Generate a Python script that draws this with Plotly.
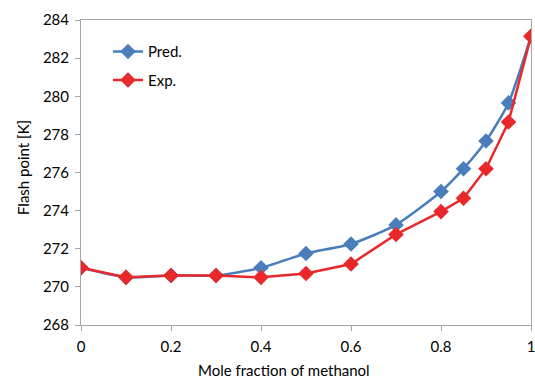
import plotly.graph_objects as go

x_vals = [0, 0.1, 0.2, 0.3, 0.4, 0.5, 0.6, 0.7, 0.8, 0.85, 0.9, 0.95, 1.0]
pred = [271.0, 270.5, 270.6, 270.6, 271.0, 271.75, 272.25, 273.25, 275.0, 276.2, 277.65, 279.65, 283.15]
exp_ = [271.0, 270.5, 270.6, 270.6, 270.5, 270.7, 271.2, 272.75, 273.95, 274.65, 276.2, 278.65, 283.15]
x_ticks = [0, 0.2, 0.4, 0.6, 0.8, 1]
x_tick_text = ["0", "0.2", "0.4", "0.6", "0.8", "1"]
y_ticks = [268, 270, 272, 274, 276, 278, 280, 282, 284]

blue = "#4a7ebb"
red = "#e8282b"
font = "Lato"
fsize = 15

fig = go.Figure()
fig.add_trace(go.Scatter(x=x_vals, y=pred, name="Pred.", mode="lines+markers",
                         line=dict(color=blue, width=2.5, shape="spline", smoothing=0.6),
                         marker=dict(symbol="diamond", size=12, color=blue),
                         legendgroup="a"))
fig.add_trace(go.Scatter(x=x_vals, y=exp_, name="Exp.", mode="lines+markers",
                         line=dict(color=red, width=2.5),
                         marker=dict(symbol="diamond", size=12, color=red),
                         legendgroup="b"))

axis_common = dict(showgrid=False, zeroline=False, showline=True, linecolor="#a6a6a6",
                   linewidth=1, mirror=True, ticks="outside", ticklen=5, tickcolor="#a6a6a6",
                   ticklabelstandoff=3, ticklabeloverflow="allow", automargin=False,
                   tickfont=dict(family=font, size=fsize, color="#000"))
fig.update_xaxes(range=[0, 1], tickvals=x_ticks, ticktext=x_tick_text, **axis_common)
fig.update_yaxes(range=[268, 284], tickvals=y_ticks, **axis_common)

fig.add_annotation(text="Mole fraction of methanol", xref="paper", yref="paper",
                   x=(283.5 - 81) / 450, y=-(359 - 325) / 305, xanchor="center", yanchor="top",
                   showarrow=False, font=dict(family=font, size=fsize, color="#000"))
fig.add_annotation(text="Flash point [K]", xref="paper", yref="paper", textangle=-90,
                   x=(23 - 81) / 450, y=(325 - 168) / 305, xanchor="center", yanchor="middle",
                   showarrow=False, font=dict(family=font, size=fsize, color="#000"))

fig.update_layout(width=535, height=379, margin=dict(l=81, r=4, t=20, b=54),
                  plot_bgcolor="white", paper_bgcolor="white",
                  font=dict(family=font, size=fsize, color="#000"),
                  legend=dict(x=0.06, y=0.95, xanchor="left", yanchor="top",
                              bgcolor="rgba(0,0,0,0)", tracegroupgap=6,
                              font=dict(family=font, size=fsize, color="#000")))

fig.write_html("out.html")
